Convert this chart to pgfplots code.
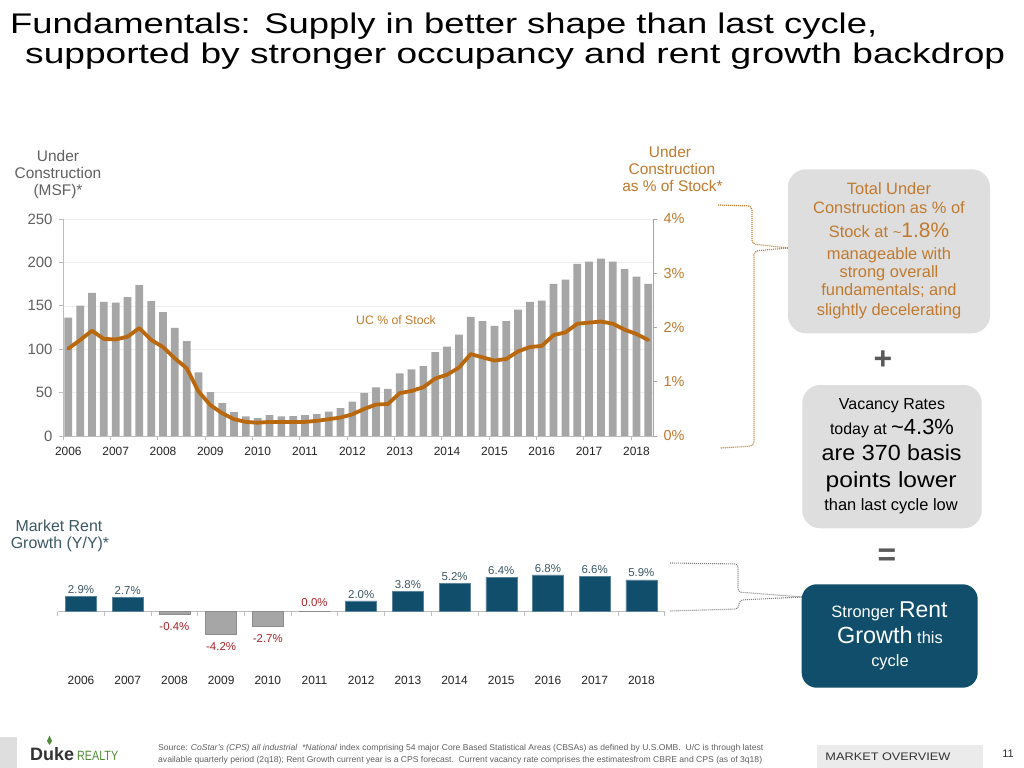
\documentclass[border=0pt]{standalone}
\usepackage{pgfplots}
\pgfplotsset{compat=1.18}
\usepackage{pgfplotstable}
\usepackage{graphicx}
\usepackage{fontspec}
\setmainfont{Liberation Sans}
\newcommand\fs[1]{\fontsize{#1}{#1}\selectfont}
\newcommand\fitw[2]{\resizebox{#1}{\height}{#2}}
\definecolor{ucbar}{RGB}{166,166,166}
\definecolor{ucline}{RGB}{186,104,14}
\definecolor{ucorange}{RGB}{192,122,46}
\definecolor{rentblue}{RGB}{16,78,108}
\definecolor{rentgray}{RGB}{166,166,166}
\definecolor{rentlab}{RGB}{60,88,100}
\definecolor{negred}{RGB}{168,36,42}
\definecolor{boxgray}{RGB}{222,222,222}
\definecolor{txtgray}{RGB}{96,96,96}
\definecolor{axgray}{RGB}{190,190,190}
\definecolor{dukegreen}{RGB}{82,140,58}

\pgfplotstableread{
q uc pct
1 136.5 1.61
2 150.3 1.77
3 164.9 1.94
4 154.5 1.79
5 153.8 1.78
6 159.9 1.83
7 173.7 1.99
8 155.3 1.77
9 142.6 1.64
10 124.6 1.43
11 109.3 1.25
12 73.2 0.82
13 50.6 0.57
14 38.0 0.42
15 27.6 0.31
16 22.6 0.26
17 20.7 0.245
18 24.2 0.26
19 22.6 0.26
20 23.0 0.26
21 24.2 0.26
22 25.3 0.28
23 28.0 0.31
24 32.2 0.34
25 39.5 0.40
26 49.8 0.50
27 56.0 0.58
28 54.4 0.59
29 72.1 0.79
30 76.7 0.83
31 80.5 0.90
32 96.6 1.06
33 103.1 1.13
34 116.9 1.26
35 137.3 1.51
36 132.3 1.45
37 126.9 1.39
38 132.3 1.42
39 145.7 1.56
40 154.5 1.64
41 156.1 1.66
42 175.2 1.86
43 180.2 1.91
44 198.2 2.07
45 200.9 2.09
46 204.4 2.11
47 200.9 2.07
48 192.5 1.96
49 183.7 1.88
50 175.2 1.77
}\ucdata

\begin{document}
\begin{tikzpicture}
\path[use as bounding box] (0,0) rectangle (1024bp,-768bp);
\begin{scope}[x=1bp,y=-1bp]
\fill[white] (0,0) rectangle (1024,768);
% title
\node[anchor=base west, inner sep=0] at (10,33.3) {\fitw{867bp}{\fs{28.5}Fundamentals: Supply in better shape than last cycle,}};
\node[anchor=base west, inner sep=0] at (25,63) {\fitw{980bp}{\fs{28.5}supported by stronger occupancy and rent growth backdrop}};
% left axis title
\node[anchor=mid, text=txtgray, font=\fs{15.5}] at (58,159.3) {Under};
\node[anchor=mid, text=txtgray, font=\fs{15.5}] at (58,176) {Construction};
\node[anchor=mid, text=txtgray, font=\fs{15.5}] at (58,193.3) {(MSF)*};
% right axis title
\node[anchor=mid, text=ucorange, font=\fs{15.5}] at (670,155) {Under};
\node[anchor=mid, text=ucorange, font=\fs{15.5}] at (672,172.3) {Construction};
\node[anchor=mid, text=ucorange, font=\fs{15.5}] at (672.5,189.3) {as \% of Stock*};
\node[anchor=mid, text=ucorange, font=\fs{12.3}] at (396,321.7) {UC \% of Stock};
% brackets
\draw[ucorange, line width=1.2bp, dash pattern=on 1bp off 1bp, rounded corners=4bp]
  (718,205) -- (752,206) -- (752,244) -- (788,248);
\draw[ucorange, line width=1.2bp, dash pattern=on 1bp off 1bp, rounded corners=4bp]
  (788,248) -- (754,251) -- (754,446) -- (720,448);
\draw[gray, line width=1.1bp, dash pattern=on 1bp off 1bp, rounded corners=3bp]
  (670,563) -- (738,564) -- (738,592) -- (802,597);
\draw[gray, line width=1.1bp, dash pattern=on 1bp off 1bp, rounded corners=3bp]
  (802,597) -- (740,600) -- (738,609) -- (670,611);
% box 1
\fill[boxgray, rounded corners=18bp] (788,169.3) rectangle (990,333.3);
\node[anchor=mid, text=ucorange, font=\fs{16.5}] at (889,191.7) {Total Under};
\node[anchor=mid, text=ucorange, font=\fs{16.5}] at (889,210.7) {Construction as \% of};
\node[anchor=mid, text=ucorange, font=\fs{16.5}] at (889,235) {Stock at {\fs{15}\char`\~}{\fs{21}1.8\%}};
\node[anchor=mid, text=ucorange, font=\fs{16.5}] at (889,256.7) {manageable with};
\node[anchor=mid, text=ucorange, font=\fs{16.5}] at (889,275) {strong overall};
\node[anchor=mid, text=ucorange, font=\fs{16.5}] at (889,293.3) {fundamentals; and};
\node[anchor=mid, text=ucorange, font=\fs{16.5}] at (889,312.7) {slightly decelerating};
% plus
\node[anchor=center, text=black!65, font=\fs{32}\bfseries] at (883,360) {+};
% box 2
\fill[boxgray, rounded corners=18bp] (802.3,385) rectangle (981.7,528.3);
\node[anchor=mid, text=black, font=\fs{16}] at (892,406.7) {Vacancy Rates};
\node[anchor=mid, text=black, font=\fs{16}] at (892,431.7) {today at {\fs{22}\char`\~4.3\%}};
\node[anchor=mid, text=black] at (891.7,458.3) {\fitw{140bp}{\fs{22}are 370 basis}};
\node[anchor=mid, text=black] at (891.2,485) {\fitw{131bp}{\fs{22}points lower}};
\node[anchor=mid, text=black, font=\fs{16.5}] at (891,508.3) {than last cycle low};
% equals
\node[anchor=center, text=black!65, font=\fs{32}\bfseries] at (887,557) {=};
% box 3
\fill[rentblue, rounded corners=15bp] (801.7,584.3) rectangle (977.7,687.7);
\node[anchor=mid, text=white, font=\fs{16.5}] at (889.5,615) {Stronger {\fs{23}Rent}};
\node[anchor=mid, text=white, font=\fs{16.5}] at (890,641) {{\fs{23.5}Growth} this};
\node[anchor=mid, text=white, font=\fs{16.5}] at (890,664.3) {cycle};
% bottom chart title
\node[anchor=mid, text=rentlab, font=\fs{16}] at (59,529) {Market Rent};
\node[anchor=mid, text=rentlab, font=\fs{16}] at (60,546) {Growth (Y/Y)*};
% footer
\fill[boxgray] (0,736.7) rectangle (16.7,768);
\node[anchor=base west, inner sep=0, text=black!80] at (30,760) {\fs{18}\bfseries Duke};
\node[anchor=base west, inner sep=0, text=dukegreen] at (77,760) {\fitw{41bp}{\fs{13.5}REALTY}};
\fill[dukegreen] (49.5,745) -- (47,741) -- (49.5,735.5) -- (52,741) -- cycle;
\node[anchor=base west, inner sep=0, text=txtgray] at (158,750) {\fitw{605bp}{\fs{8.5}Source: \textit{CoStar's (CPS) all industrial}\ \ \textit{*National} index comprising 54 major Core Based Statistical Areas (CBSAs) as defined by U.S.OMB.\ \ U/C is through latest}};
\node[anchor=base west, inner sep=0, text=txtgray] at (158,762) {\fitw{604bp}{\fs{8.5}available quarterly period (2q18); Rent Growth current year is a CPS forecast.\ \ Current vacancy rate comprises the estimatesfrom CBRE and CPS (as of 3q18)}};
\fill[black!8] (817,745) rectangle (983,768);
\node[anchor=mid, text=black!80] at (888,757.5) {\fitw{125bp}{\fs{11}MARKET OVERVIEW}};
\node[anchor=mid, text=black!80, font=\fs{11}] at (1008,755) {11};
\end{scope}

% ---------- top chart: bars (left axis)
\begin{axis}[
  at={(63bp,-436bp)}, anchor=south west,
  scale only axis, width=590bp, height=217bp,
  xmin=0.55, xmax=50.4, ymin=0, ymax=250,
  axis x line*=bottom, axis y line*=left,
  axis line style={axgray, line width=0.8bp},
  ytick={0,50,100,150,200,250},
  yticklabel style={font=\fs{15}, text=txtgray, xshift=-3bp},
  ymajorgrids, grid style={black!7, line width=0.6bp},
  xtick={0.55,4.55,8.55,12.55,16.55,20.55,24.55,28.55,32.55,36.55,40.55,44.55,48.55},
  xticklabels={},
  extra x ticks={1,5,9,13,17,21,25,29,33,37,41,45,49},
  extra x tick labels={2006,2007,2008,2009,2010,2011,2012,2013,2014,2015,2016,2017,2018},
  extra x tick style={major tick length=0pt},
  xticklabel style={font=\fs{12}, text=black!85, yshift=-8bp},
  tick align=outside, major tick length=4bp,
  tick style={axgray, line width=0.8bp},
  /pgf/number format/assume math mode=true,
  clip=false,
]
\addplot[ybar, bar width=7.7bp, fill=ucbar, draw=none] table[x=q, y=uc] {\ucdata};
\end{axis}

% ---------- top chart: line (right axis)
\begin{axis}[
  at={(63bp,-436bp)}, anchor=south west,
  scale only axis, width=590bp, height=217bp,
  xmin=0.55, xmax=50.4, ymin=0, ymax=4,
  axis x line=none, axis y line*=right,
  axis line style={black!35, line width=0.8bp},
  ytick={0,1,2,3,4},
  yticklabel={\pgfmathprintnumber{\tick}\%},
  yticklabel style={font=\fs{14.5}, text=ucorange, xshift=3bp},
  tick align=outside, major tick length=4bp,
  tick style={black!35, line width=0.8bp},
  /pgf/number format/assume math mode=true,
]
\addplot[ucline, line width=3.8bp, line join=round, line cap=round] table[x=q, y=pct] {\ucdata};
\end{axis}

% ---------- bottom chart: rent growth
\begin{axis}[
  at={(57.7bp,-670bp)}, anchor=south west,
  scale only axis, width=607bp, height=101.5bp,
  xmin=-0.5, xmax=12.5, ymin=-10.8, ymax=8,
  axis line style={draw=none},
  ytick=\empty,
  xtick={0,1,2,3,4,5,6,7,8,9,10,11,12},
  xticklabels={2006,2007,2008,2009,2010,2011,2012,2013,2014,2015,2016,2017,2018},
  xticklabel style={font=\fs{12}, text=black!85, yshift=-3bp},
  major tick length=0pt,
  /pgf/number format/assume math mode=true,
  clip=false,
]
\draw[axgray, line width=0.8bp] (axis cs:-0.5,0) -- (axis cs:12.5,0);
\pgfplotsinvokeforeach{-0.5,0.5,1.5,2.5,3.5,4.5,5.5,6.5,7.5,8.5,9.5,10.5,11.5,12.5}{
  \draw[axgray, line width=0.8bp] (axis cs:#1,0) -- ([yshift=-4bp]axis cs:#1,0);
}
\addplot[ybar, bar width=31bp, bar shift=0pt, fill=rentblue, draw=rentblue!70!white, line width=0.5bp,
  nodes near coords={\pgfmathprintnumber[fixed,fixed zerofill,precision=1]{\pgfplotspointmeta}\%},
  every node near coord/.append style={font=\fs{11.5}, text=rentlab, inner sep=2.5bp, anchor=south}]
  coordinates {(0,2.9) (1,2.7) (6,2.0) (7,3.8) (8,5.2) (9,6.4) (10,6.8) (11,6.6) (12,5.9)};
\addplot[ybar, bar width=31bp, bar shift=0pt, fill=rentgray, draw=black!45, line width=0.6bp,
  nodes near coords={\pgfmathprintnumber[fixed,fixed zerofill,precision=1]{\pgfplotspointmeta}\%},
  every node near coord/.append style={font=\fs{11.5}, text=negred, inner sep=8bp, anchor=north}]
  coordinates {(2,-0.4) (3,-4.2) (4,-2.7)};
\addplot[ybar, bar width=31bp, bar shift=0pt, fill=rentgray, draw=black!45, line width=0.6bp,
  nodes near coords={\pgfmathprintnumber[fixed,fixed zerofill,precision=1]{\pgfplotspointmeta}\%},
  every node near coord/.append style={font=\fs{11.5}, text=negred, inner sep=5bp, anchor=south}]
  coordinates {(5,0.0)};
\end{axis}
\end{tikzpicture}
\end{document}
